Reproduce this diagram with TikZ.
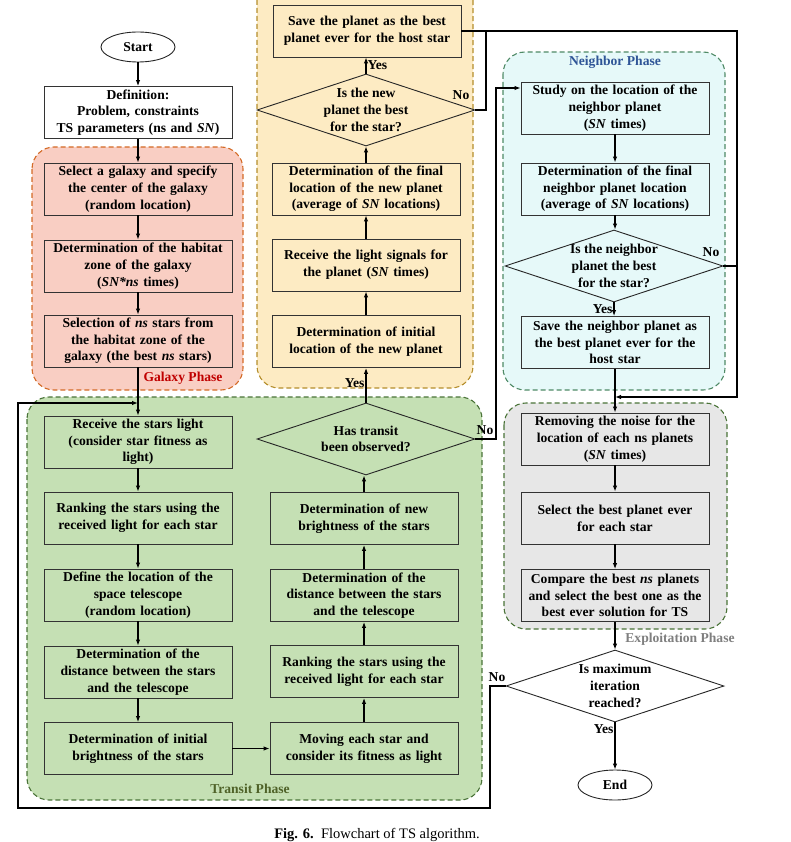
\documentclass[tikz,border=0pt]{standalone}
\usepackage{fontspec}
\setmainfont{Liberation Serif}
\usepackage{xcolor}
\usepackage{tikz}
\usetikzlibrary{arrows.meta, positioning, shapes.geometric}

\definecolor{galaxyfill}{HTML}{F9CEC3}
\definecolor{galaxyline}{HTML}{D46A26}
\definecolor{planetfill}{HTML}{FDEBC3}
\definecolor{planetline}{HTML}{B48E2C}
\definecolor{neighfill}{HTML}{E6F9F9}
\definecolor{neighline}{HTML}{4F8A66}
\definecolor{transfill}{HTML}{C5E0B4}
\definecolor{transline}{HTML}{4A7338}
\definecolor{exploitfill}{HTML}{E7E7E7}
\definecolor{galaxytxt}{HTML}{C00000}
\definecolor{neightxt}{HTML}{2F5597}
\definecolor{transtxt}{HTML}{4F6228}
\definecolor{exploittxt}{HTML}{7F7F7F}

\newcommand{\tsfont}{\fontsize{13.6}{16.7}\selectfont\bfseries}

\tikzset{
    stepbox/.style={draw=black!80, line width=0.9pt, rectangle, minimum width=188pt,
        minimum height=52pt, text width=184pt, align=center, inner sep=2pt, font=\tsfont},
    decide/.style={draw=black!85, line width=0.9pt, diamond, minimum width=218pt,
        minimum height=72pt, inner sep=0pt},
    qtext/.style={align=center, font=\tsfont, inner sep=0pt},
    term/.style={draw=black!85, line width=0.9pt, ellipse, minimum width=74pt,
        minimum height=30pt, inner sep=0pt, font=\tsfont},
    phase/.style={rounded corners=22pt, dash pattern=on 5pt off 3pt, line width=1.1pt},
    flow/.style={line width=1.1pt, -{Latex[length=6pt,width=4.5pt]}},
    link/.style={line width=1.1pt},
    tag/.style={font=\tsfont, inner sep=1pt},
}

\begin{document}
\begin{tikzpicture}[x=1pt, y=-1pt]
    \useasboundingbox (0,0) rectangle (791,842);

    % phase regions
    \draw[phase, draw=galaxyline, fill=galaxyfill] (32,147) rectangle (243,390);
    \draw[phase, draw=planetline, fill=planetfill] (257,-30) rectangle (473,388);
    \draw[phase, draw=neighline, fill=neighfill] (503,52) rectangle (725,390);
    \draw[phase, draw=transline, fill=transfill] (27,397) rectangle (482,800);
    \draw[phase, draw=transline, fill=exploitfill] (504,403) rectangle (727,629);

    \node[tag, text=galaxytxt] (galaxylbl) at (183,378) {Galaxy Phase};
    \node[tag, text=neightxt] (neighlbl) at (615,62) {Neighbor Phase};
    \node[tag, text=transtxt] (translbl) at (250,789) {Transit Phase};
    \node[tag, text=exploittxt] (exploitlbl) at (680,639) {Exploitation Phase};

    % start and galaxy phase
    \node[term] (start) at (138,47) {Start};
    \node[stepbox, fill=white] (def) at (138,112.5) {Definition:\\Problem, constraints\\TS parameters (ns and \textit{SN})};
    \node[stepbox] (g1) at (138,189) {Select a galaxy and specify\\the center of the galaxy\\(random location)};
    \node[stepbox] (g2) at (138,266) {Determination of the habitat\\zone of the galaxy\\(\textit{SN*ns} times)};
    \node[stepbox] (g3) at (138,341) {Selection of \textit{ns} stars from\\the habitat zone of the\\galaxy (the best \textit{ns} stars)};

    % transit phase, left column
    \node[stepbox] (t1) at (138,442) {Receive the stars light\\(consider star fitness as\\light)};
    \node[stepbox] (t2) at (138,518) {Ranking the stars using the\\received light for each star};
    \node[stepbox] (t3) at (138,595) {Define the location of the\\space telescope\\(random location)};
    \node[stepbox] (t4) at (138,672) {Determination of the\\distance between the stars\\and the telescope};
    \node[stepbox] (t5) at (138,748.5) {Determination of initial\\brightness of the stars};

    % transit phase, right column
    \node[stepbox] (m1) at (364,748.5) {Moving each star and\\consider its fitness as light};
    \node[stepbox] (m2) at (364,671.5) {Ranking the stars using the\\received light for each star};
    \node[stepbox] (m3) at (364,595.5) {Determination of the\\distance between the stars\\and the telescope};
    \node[stepbox] (m4) at (364,518.5) {Determination of new\\brightness of the stars};
    \node[decide] (td) at (366,439) {};
    \node[qtext] (tdq) at (td) {Has transit\\been observed?};

    % planet column
    \node[stepbox] (p1) at (366,341.5) {Determination of initial\\location of the new planet};
    \node[stepbox] (p2) at (366,265) {Receive the light signals for\\the planet (\textit{SN} times)};
    \node[stepbox] (p3) at (366,189) {Determination of the final\\location of the new planet\\(average of \textit{SN} locations)};
    \node[decide] (pd) at (366,110) {};
    \node[qtext] (pdq) at (pd) {Is the new\\planet the best\\for the star?};
    \node[stepbox] (ps) at (367,31) {Save the planet as the best\\planet ever for the host star};

    % neighbor phase
    \node[stepbox] (n1) at (615,108) {Study on the location of the\\neighbor planet\\(\textit{SN} times)};
    \node[stepbox] (n2) at (615,189) {Determination of the final\\neighbor planet location\\(average of \textit{SN} locations)};
    \node[decide] (nd) at (614,266) {};
    \node[qtext] (ndq) at (nd) {Is the neighbor\\planet the best\\for the star?};
    \node[stepbox] (n3) at (615,342.5) {Save the neighbor planet as\\the best planet ever for the\\host star};

    % exploitation phase
    \node[stepbox] (e1) at (615,439) {Removing the noise for the\\location of each ns planets\\(\textit{SN} times)};
    \node[stepbox] (e2) at (615,518) {Select the best planet ever\\for each star};
    \node[stepbox] (e3) at (615,595.5) {Compare the best \textit{ns} planets\\and select the best one as the\\best ever solution for TS};
    \node[decide] (md) at (615,686) {};
    \node[qtext] (mdq) at (md) {Is maximum\\iteration\\reached?};
    \node[term] (end) at (615,785) {End};

    % junction points
    \coordinate (loopin) at (138,403);
    \coordinate (noisein) at (615,397);

    % main flow
    \draw[flow] (start) -- (def);
    \draw[flow] (def) -- (g1);
    \draw[flow] (g1) -- (g2);
    \draw[flow] (g2) -- (g3);
    \draw[flow] (g3) -- (t1);
    \foreach \a/\b in {t1/t2, t2/t3, t3/t4, t4/t5}
        \draw[flow] (\a) -- (\b);
    \draw[flow] (t5) -- (m1);
    \foreach \a/\b in {m1/m2, m2/m3, m3/m4}
        \draw[flow] (\a) -- (\b);
    \draw[flow] (m4.north) -- (m4.north |- td.south);
    \draw[flow] (td.north) -- (td.north |- p1.south) node[tag, pos=0.55, left] {Yes};
    \draw[flow] (p1) -- (p1 |- p2.south);
    \draw[flow] (p2) -- (p2 |- p3.south);
    \draw[flow] (p3) -- (pd);
    \draw[flow] (pd.north) -- (pd.north |- ps.south) node[tag, pos=0.5, right] {Yes};

    % planet not best / saved planet
    \draw[link] (pd.east) -- (486,110) -- (486,31);
    \node[tag] (pdno) at (461,95) {No};
    \draw[flow] (ps.east) -- (737,31) -- (737,397) -- (noisein);
    \draw[link] (nd.east) -- (737,266);
    \node[tag] (ndno) at (711,252) {No};

    % transit not observed
    \draw[flow] (td.east) -- (496,439) -- (496,88) -- (n1.west |- 0,88);
    \node[tag] (tdno) at (485,430) {No};

    % neighbor flow
    \draw[flow] (n1) -- (n2);
    \draw[flow] (n2) -- (n2 |- nd.north);
    \draw[flow] (nd.south) -- (nd.south |- n3.north) node[tag, pos=0.5, left] {Yes};
    \draw[flow] (n3) -- (e1);
    \draw[flow] (e1) -- (e2);
    \draw[flow] (e2) -- (e3);
    \draw[flow] (e3) -- (md);
    \draw[flow] (md) -- (end) node[tag, pos=0.15, left] {Yes};

    % max iteration not reached
    \draw[flow] (md.west) -- (490,686) -- (490,808) -- (18,808) -- (18,403) -- (loopin);
    \node[tag] (mdno) at (497,677) {No};

    % caption
    \node[font=\fontsize{14.5}{17}\selectfont] (caption) at (377,835) {\textbf{Fig. 6.}\enspace Flowchart of TS algorithm.};
\end{tikzpicture}
\end{document}
